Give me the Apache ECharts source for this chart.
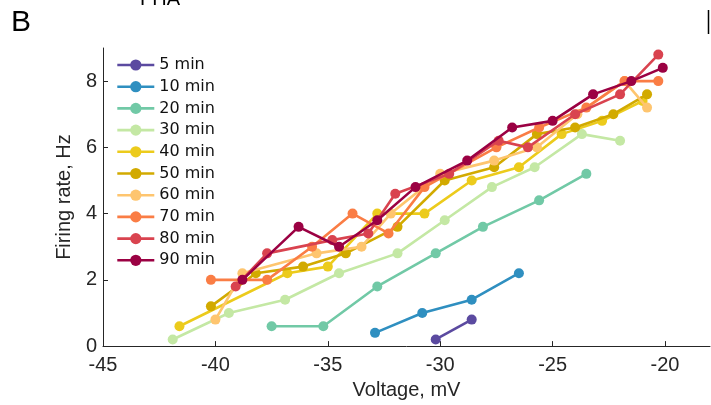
<!DOCTYPE html>
<html>
<head>
<meta charset="utf-8">
<script src="https://cdn.jsdelivr.net/npm/echarts@6/dist/echarts.min.js"></script>
<style>
html,body{margin:0;padding:0;background:#fff;}
#chart{width:711px;height:405px;}
</style>
</head>
<body>
<div id="chart"></div>
<script>
// Series names (legend)
const seriesNames = ['5 min','10 min','20 min','30 min','40 min','50 min','60 min','70 min','80 min','90 min'];
// Data: [voltage mV, firing rate Hz]
const min5  = [[-30.2,0.2],[-28.6,0.8]];
const min10 = [[-32.9,0.4],[-30.8,1.0],[-28.6,1.4],[-26.5,2.2]];
const min20 = [[-37.5,0.6],[-35.2,0.6],[-32.8,1.8],[-30.2,2.8],[-28.1,3.6],[-25.6,4.4],[-23.5,5.2]];
const min30 = [[-41.9,0.2],[-39.4,1.0],[-36.9,1.4],[-34.5,2.2],[-31.9,2.8],[-29.8,3.8],[-27.7,4.8],[-25.8,5.4],[-23.7,6.4],[-22.0,6.2]];
const min40 = [[-41.6,0.6],[-36.8,2.2],[-35.0,2.4],[-32.8,4.0],[-30.7,4.0],[-28.6,5.0],[-26.5,5.4],[-24.6,6.4],[-22.8,6.8],[-21.0,7.4]];
const min50 = [[-40.2,1.2],[-38.2,2.2],[-36.1,2.4],[-34.2,2.8],[-31.9,3.6],[-29.8,5.0],[-27.6,5.4],[-25.7,6.4],[-24.0,6.6],[-22.3,7.0],[-20.8,7.6]];
const min60 = [[-40.0,0.8],[-38.8,2.2],[-35.5,2.8],[-33.5,3.0],[-32.2,4.0],[-30.0,5.2],[-27.6,5.6],[-25.7,6.0],[-23.9,7.0],[-21.8,8.0],[-20.8,7.2]];
const min70 = [[-40.2,2.0],[-37.7,2.0],[-35.7,3.0],[-33.9,4.0],[-32.3,3.4],[-30.7,4.8],[-27.5,6.0],[-25.6,6.6],[-23.5,7.2],[-21.8,8.0],[-20.3,8.0]];
const min80 = [[-39.1,1.8],[-37.7,2.8],[-34.8,3.2],[-33.2,3.4],[-32.0,4.6],[-29.6,5.2],[-27.4,6.2],[-26.1,6.0],[-24.0,7.0],[-22.0,7.6],[-20.3,8.8]];
const min90 = [[-38.8,2.0],[-36.3,3.6],[-34.5,3.0],[-32.8,3.8],[-31.1,4.8],[-28.8,5.6],[-26.8,6.6],[-25.0,6.8],[-23.2,7.6],[-21.5,8.0],[-20.1,8.4]];
// Tick values
const xTicks = [-45,-40,-35,-30,-25,-20];
const yTicks = [0,2,4,6,8];

const allData = [min5,min10,min20,min30,min40,min50,min60,min70,min80,min90];
const colors = ['#5b4aa0','#2f8fc0','#71c9a6','#c4e8a4','#eccb1c','#d2aa00','#fec56f','#fa7d45','#d9434f','#9b0143'];

const axisColor = '#262626';
const chart = echarts.init(document.getElementById('chart'), null, {renderer:'canvas'});
chart.setOption({
  animation: false,
  backgroundColor: '#fff',
  color: colors,
  grid: {left: 103, right: 1, top: 48, bottom: 58, containLabel: false},
  xAxis: {
    type: 'value', min: -45, max: -18,
    name: 'Voltage, mV', nameLocation: 'middle', nameGap: 32,
    nameTextStyle: {fontFamily: 'Liberation Sans', fontSize: 20, color: axisColor},
    axisLine: {show: true, lineStyle: {color: axisColor, width: 1}},
    axisTick: {show: true, inside: true, length: 5, customValues: xTicks, lineStyle: {color: axisColor}},
    axisLabel: {customValues: xTicks, margin: 9, fontFamily: 'Liberation Sans', fontSize: 20, color: axisColor},
    splitLine: {show: false}
  },
  yAxis: {
    type: 'value', min: 0, max: 9,
    name: 'Firing rate, Hz', nameLocation: 'middle', nameGap: 27, nameRotate: 90,
    nameTextStyle: {fontFamily: 'Liberation Sans', fontSize: 20, color: axisColor},
    axisLine: {show: true, lineStyle: {color: axisColor, width: 1}},
    axisTick: {show: true, inside: true, length: 5, customValues: yTicks, lineStyle: {color: axisColor}},
    axisLabel: {customValues: yTicks, margin: 6, fontFamily: 'Liberation Sans', fontSize: 20, color: axisColor},
    splitLine: {show: false}
  },
  legend: {
    orient: 'vertical', left: 116, top: 57, padding: 0,
    itemWidth: 37, itemHeight: 14, itemGap: 5.7,
    lineStyle: {width: 2.6},
    textStyle: {fontFamily: 'DejaVu Sans', fontSize: 16, color: '#111'},
    data: seriesNames
  },
  graphic: [
    {type: 'text', left: 11, top: 8, style: {text: 'B', font: '30px "Liberation Sans"', fill: '#000'}},
    {type: 'text', x: 140, y: -11, style: {text: 'FHA', font: '20px "Liberation Sans"', fill: '#000'}},
    {type: 'line', shape: {x1: 708.5, y1: 10, x2: 708.5, y2: 34}, style: {stroke: '#000', lineWidth: 1.5}}
  ],
  series: seriesNames.map((n, i) => ({
    name: n, type: 'line', data: allData[i],
    symbol: 'circle', symbolSize: 10, showSymbol: true,
    lineStyle: {width: 2.6, color: colors[i]},
    itemStyle: {color: colors[i]},
    z: 2 + i
  }))
});
</script>
</body>
</html>
